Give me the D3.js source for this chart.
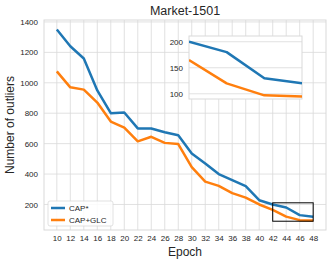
<!DOCTYPE html>
<html>
<head>
<meta charset="utf-8">
<script src="https://cdn.jsdelivr.net/npm/d3@7"></script>
<style>
  body { margin: 0; background: #fff; }
  text { font-family: "Liberation Sans", Arial, sans-serif; fill: #262626; }
</style>
</head>
<body>
<script>
// Data
var epochs = [10, 12, 14, 16, 18, 20, 22, 24, 26, 28, 30, 32, 34, 36, 38, 40, 42, 44, 46, 48];
var capStar = [1350, 1240, 1160, 950, 800, 805, 700, 700, 675, 655, 535, 470, 400, 360, 320, 228, 200, 180, 130, 120];
var capGlc = [1075, 970, 955, 870, 745, 705, 615, 645, 605, 597, 445, 350, 322, 275, 245, 200, 165, 120, 97, 95];
var seriesNames = ["CAP*", "CAP+GLC"];
var seriesColors = ["#1f77b4", "#ff7f0e"];
var yTicks = [200, 400, 600, 800, 1000, 1200, 1400];
var insetTicks = [100, 150, 200];
var zoomX = [42, 48], zoomY = [90, 211];

var W = 333, H = 264;
var margin = {left: 44, right: 7, top: 20, bottom: 34};
var width = W - margin.left - margin.right,
    height = H - margin.top - margin.bottom;

var svg = d3.select("body").append("svg")
    .attr("width", W).attr("height", H);

var g = svg.append("g")
    .attr("transform", "translate(" + margin.left + "," + margin.top + ")");

// matplotlib-like 5% margins
var xPad = (d3.max(epochs) - d3.min(epochs)) * 0.05;
var allVals = capStar.concat(capGlc);
var yPad = (d3.max(allVals) - d3.min(allVals)) * 0.05;

var x = d3.scaleLinear()
    .domain([d3.min(epochs) - xPad, d3.max(epochs) + xPad])
    .range([0, width]);
var y = d3.scaleLinear()
    .domain([d3.min(allVals) - yPad, d3.max(allVals) + yPad])
    .range([height, 0]);

var gridColor = "#d9d9d9";

// Grid lines
g.selectAll(".vgrid").data(epochs).enter().append("line")
    .attr("x1", function(d) { return x(d); })
    .attr("x2", function(d) { return x(d); })
    .attr("y1", 0).attr("y2", height)
    .attr("stroke", gridColor).attr("stroke-width", 0.8);
g.selectAll(".hgrid").data(yTicks).enter().append("line")
    .attr("x1", 0).attr("x2", width)
    .attr("y1", function(d) { return y(d); })
    .attr("y2", function(d) { return y(d); })
    .attr("stroke", gridColor).attr("stroke-width", 0.8);

g.append("rect")
    .attr("width", width).attr("height", height)
    .attr("fill", "none").attr("stroke", gridColor).attr("stroke-width", 1);

// Axes (tick labels only)
var xAxis = g.append("g")
    .attr("transform", "translate(0," + height + ")")
    .call(d3.axisBottom(x).tickValues(epochs).tickFormat(d3.format("d")).tickSize(0).tickPadding(5));
var yAxis = g.append("g")
    .call(d3.axisLeft(y).tickValues(yTicks).tickFormat(d3.format("d")).tickSize(0).tickPadding(6));
[xAxis, yAxis].forEach(function(a) {
    a.select(".domain").remove();
    a.selectAll("text").style("font-size", "8px")
        .style("font-family", "Liberation Sans, Arial, sans-serif")
        .attr("fill", "#262626");
});

// Lines
var line = d3.line()
    .x(function(d) { return x(d[0]); })
    .y(function(d) { return y(d[1]); });
var series = [capStar, capGlc];
series.forEach(function(s, i) {
    g.append("path")
        .datum(epochs.map(function(e, j) { return [e, s[j]]; }))
        .attr("d", line)
        .attr("fill", "none")
        .attr("stroke", seriesColors[i])
        .attr("stroke-width", 2.5)
        .attr("stroke-linejoin", "round");
});

// Zoom rectangle
g.append("rect")
    .attr("x", x(zoomX[0])).attr("y", y(zoomY[1]))
    .attr("width", x(zoomX[1]) - x(zoomX[0]))
    .attr("height", y(zoomY[0]) - y(zoomY[1]))
    .attr("fill", "none").attr("stroke", "#000").attr("stroke-width", 1);

// Inset
var inset = {left: 189, top: 36, width: 113, height: 63};
var ig = svg.append("g")
    .attr("transform", "translate(" + inset.left + "," + inset.top + ")");
var ix = d3.scaleLinear().domain(zoomX).range([0, inset.width]);
var iy = d3.scaleLinear().domain(zoomY).range([inset.height, 0]);

ig.append("rect")
    .attr("width", inset.width).attr("height", inset.height)
    .attr("fill", "#fff");
ig.selectAll(".igrid").data(insetTicks).enter().append("line")
    .attr("x1", 0).attr("x2", inset.width)
    .attr("y1", function(d) { return iy(d); })
    .attr("y2", function(d) { return iy(d); })
    .attr("stroke", gridColor).attr("stroke-width", 0.8);
ig.append("rect")
    .attr("width", inset.width).attr("height", inset.height)
    .attr("fill", "none").attr("stroke", gridColor).attr("stroke-width", 1);

var iAxis = ig.append("g")
    .call(d3.axisLeft(iy).tickValues(insetTicks).tickSize(0).tickPadding(6));
iAxis.select(".domain").remove();
iAxis.selectAll("text").style("font-size", "8px")
    .style("font-family", "Liberation Sans, Arial, sans-serif")
    .attr("fill", "#262626");

var iline = d3.line()
    .x(function(d) { return ix(d[0]); })
    .y(function(d) { return iy(d[1]); });
svg.append("clipPath").attr("id", "insetclip")
    .append("rect").attr("width", inset.width).attr("height", inset.height);
series.forEach(function(s, i) {
    ig.append("path")
        .datum(epochs.map(function(e, j) { return [e, s[j]]; })
            .filter(function(d) { return d[0] >= zoomX[0]; }))
        .attr("d", iline)
        .attr("clip-path", "url(#insetclip)")
        .attr("fill", "none")
        .attr("stroke", seriesColors[i])
        .attr("stroke-width", 2.5)
        .attr("stroke-linejoin", "round");
});

// Legend
var lg = g.append("g").attr("transform", "translate(4," + (height - 29) + ")");
lg.append("rect")
    .attr("width", 65).attr("height", 25).attr("rx", 2)
    .attr("fill", "#fff").attr("fill-opacity", 0.85)
    .attr("stroke", gridColor).attr("stroke-width", 0.8);
seriesNames.forEach(function(name, i) {
    var yy = 7 + i * 12;
    lg.append("line")
        .attr("x1", 3).attr("x2", 17)
        .attr("y1", yy).attr("y2", yy)
        .attr("stroke", seriesColors[i]).attr("stroke-width", 2.5);
    lg.append("text")
        .attr("x", 21).attr("y", yy + 3)
        .style("font-size", "8px")
        .text(name);
});

// Title and axis labels
svg.append("text")
    .attr("x", margin.left + width / 2).attr("y", 15)
    .attr("text-anchor", "middle")
    .style("font-size", "12.5px")
    .text("Market-1501");
svg.append("text")
    .attr("x", margin.left + width / 2).attr("y", 256)
    .attr("text-anchor", "middle")
    .style("font-size", "12px")
    .text("Epoch");
svg.append("text")
    .attr("transform", "translate(14," + (margin.top + height / 2) + ") rotate(-90)")
    .attr("text-anchor", "middle")
    .style("font-size", "12px")
    .text("Number of outliers");
</script>
</body>
</html>
